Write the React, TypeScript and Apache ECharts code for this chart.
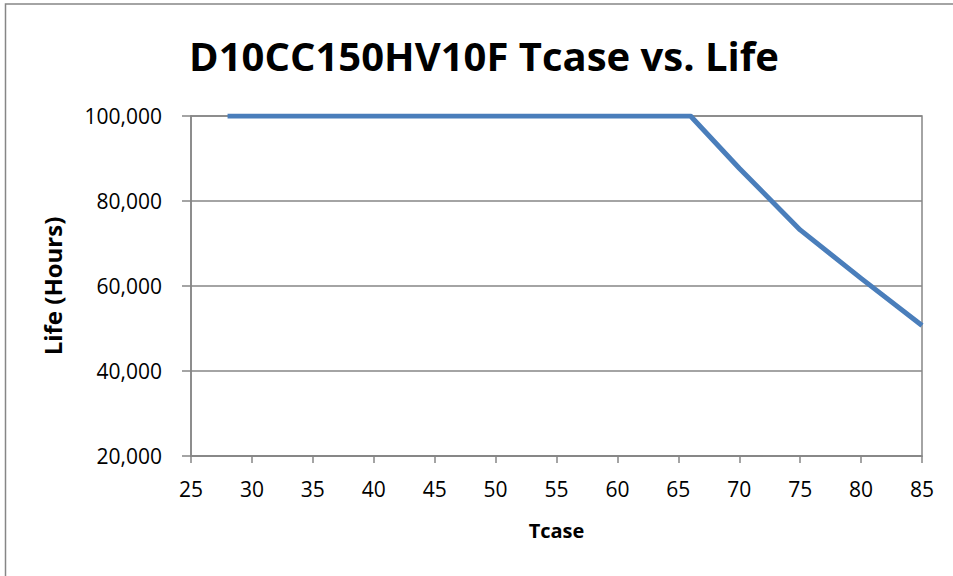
import React, { useEffect, useRef } from "react";
import * as echarts from "echarts";

const tcase: number[] = [28, 66, 70, 75, 80, 85];
const lifeHours: number[] = [100000, 100000, 87700, 73200, 61800, 50700];
const titleText = "D10CC150HV10F Tcase vs. Life";
const xAxisName = "Tcase";
const yAxisName = "Life (Hours)";

export default function App() {
  const ref = useRef<HTMLDivElement>(null);
  useEffect(() => {
    if (!ref.current) return;
    const chart = echarts.init(ref.current, null, { renderer: "svg" });
    const font = "'Open Sans', 'Noto Sans', sans-serif";
    const axisGray = "#868686";
    chart.setOption({
      animation: false,
      backgroundColor: "#ffffff",
      textStyle: { fontFamily: font },
      title: {
        text: titleText,
        left: 479,
        top: 30,
        textAlign: "center",
        textStyle: { fontFamily: font, fontWeight: "bold", fontSize: 40, color: "#000" },
      },
      grid: {
        left: 191,
        right: 31,
        top: 116,
        bottom: 120,
        show: true,
        borderColor: axisGray,
        borderWidth: 1.5,
        backgroundColor: "transparent",
      },
      xAxis: {
        type: "value",
        min: 25,
        max: 85,
        interval: 5,
        name: xAxisName,
        nameLocation: "middle",
        nameGap: 64,
        nameTextStyle: { fontFamily: font, fontWeight: "bold", fontSize: 20, color: "#000" },
        axisLine: { show: true, onZero: false, lineStyle: { color: axisGray, width: 1.5 } },
        axisTick: { show: true, length: 7, lineStyle: { color: axisGray, width: 1.5 } },
        axisLabel: { fontFamily: font, fontSize: 21, color: "#000", margin: 22 },
        splitLine: { show: false },
      },
      yAxis: {
        type: "value",
        min: 20000,
        max: 100000,
        interval: 20000,
        name: yAxisName,
        nameLocation: "middle",
        nameGap: 127,
        nameTextStyle: { fontFamily: font, fontWeight: "bold", fontSize: 24, color: "#000" },
        axisLine: { show: true, lineStyle: { color: axisGray, width: 1.5 } },
        axisTick: { show: true, length: 9, lineStyle: { color: axisGray, width: 1.5 } },
        axisLabel: {
          fontFamily: font,
          fontSize: 21,
          color: "#000",
          margin: 29,
          formatter: (v: number) => v.toLocaleString("en-US"),
        },
        splitLine: { show: true, lineStyle: { color: axisGray, width: 1.5 } },
      },
      graphic: [
        {
          type: "rect",
          shape: { x: 5.5, y: 4, width: 1200, height: 1200 },
          style: { fill: "none", stroke: axisGray, lineWidth: 1.5 },
          silent: true,
        },
      ],
      series: [
        {
          type: "line",
          data: tcase.map((x, i) => [x, lifeHours[i]]),
          showSymbol: false,
          symbol: "none",
          lineStyle: { color: "#4A7EBB", width: 5, join: "round" },
        },
      ],
    });
    return () => chart.dispose();
  }, []);
  return (
    <div
      ref={ref}
      style={{ position: "absolute", left: 0, top: 0, width: 953, height: 576 }}
    />
  );
}
